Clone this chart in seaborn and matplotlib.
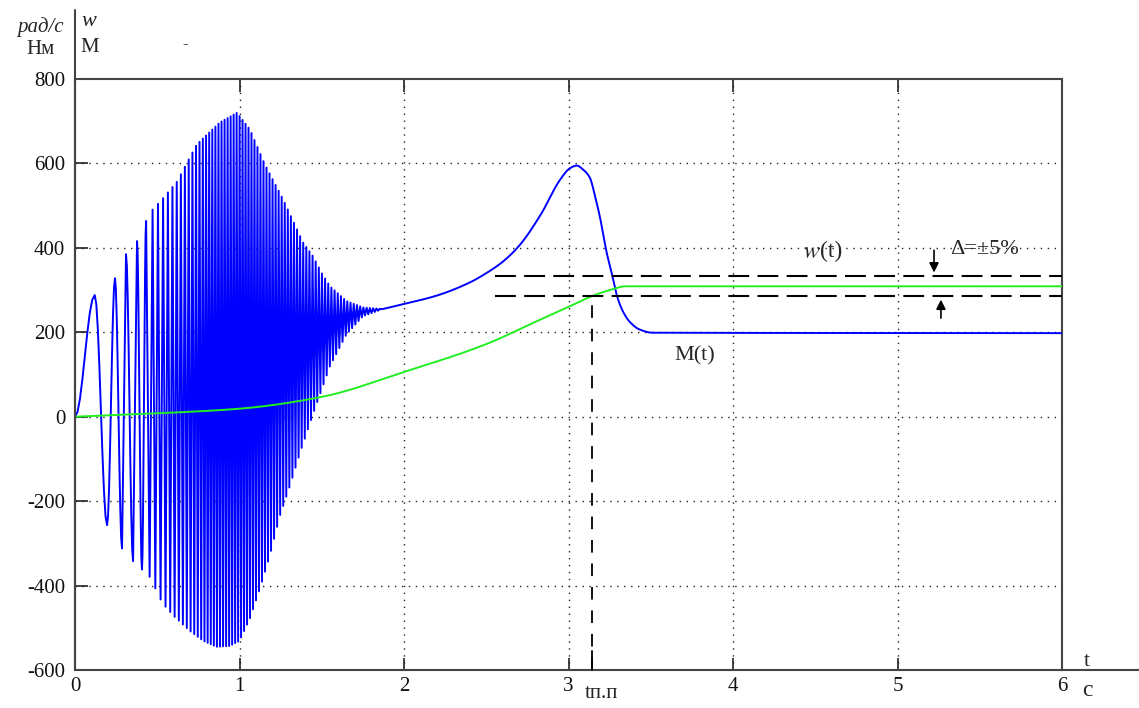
import numpy as np
import pandas as pd
import matplotlib
matplotlib.use("Agg")
import matplotlib.pyplot as plt
import seaborn as sns

# ---------------- data ----------------
# first distinct oscillation extremes of M(t)
early_t = [0.0, 0.12, 0.195, 0.243, 0.286, 0.31, 0.353, 0.377]
early_m = [0.0, 288, -257, 328, -312, 385, -342, 416]
# upper envelope of the dense oscillation
upper_t = [0.377, 0.456, 0.53, 0.62, 0.74, 0.88, 0.985, 1.064, 1.155, 1.265, 1.386, 1.447, 1.5, 1.55, 1.65, 1.75, 1.87]
upper_m = [416, 484, 515, 557, 645, 697, 720, 680, 597, 515, 413, 380, 340, 309, 274, 259, 255]
# lower envelope of the dense oscillation
lower_t = [0.353, 0.456, 0.53, 0.6, 0.7, 0.78, 0.86, 0.94, 1.0, 1.064, 1.125, 1.185, 1.246, 1.307, 1.37, 1.45, 1.55, 1.65, 1.75, 1.87]
lower_m = [-342, -380, -441, -472, -508, -531, -545, -543, -531, -477, -406, -328, -234, -163, -83, 10, 120, 195, 238, 255]
# visible oscillation period
period_t = [0.377, 0.46, 0.6, 0.8, 1.0, 1.9]
period_v = [0.06, 0.034, 0.026, 0.019, 0.018, 0.02]
# smooth part of M(t)
smooth_t = [1.87, 2.0, 2.2, 2.4, 2.5, 2.6, 2.7, 2.83, 2.95, 3.01, 3.05, 3.09, 3.13, 3.16, 3.19, 3.232, 3.267, 3.295, 3.33, 3.374, 3.43, 3.51, 6.0]
smooth_m = [255, 267, 287, 318, 340, 367, 405, 478, 562, 589, 595, 585, 566, 525, 475, 389, 333, 286, 250, 224, 207, 199, 198]
# speed w(t)
w_t = [0, 0.5, 1.0, 1.5, 2.0, 2.5, 2.8, 3.0, 3.145, 3.25, 3.35, 6.0]
w_v = [0, 8, 19, 47, 106, 172, 225, 260, 286, 300, 309, 309]

x_ticks = [0, 1, 2, 3, 4, 5, 6]
y_ticks = [-600, -400, -200, 0, 200, 400, 600, 800]
t_pp = 3.143
band_hi, band_lo = 333, 286


def pchip(xk, yk, xs):
    xk = np.asarray(xk, float)
    yk = np.asarray(yk, float)
    h = np.diff(xk)
    d = np.diff(yk) / h
    m = np.zeros_like(yk)
    for i in range(1, len(xk) - 1):
        if d[i - 1] * d[i] > 0:
            w1 = 2 * h[i] + h[i - 1]
            w2 = h[i] + 2 * h[i - 1]
            m[i] = (w1 + w2) / (w1 / d[i - 1] + w2 / d[i])
    m[0] = d[0]
    m[-1] = d[-1]
    idx = np.clip(np.searchsorted(xk, xs) - 1, 0, len(xk) - 2)
    x0 = xk[idx]
    hh = h[idx]
    s = (xs - x0) / hh
    h00 = 2 * s**3 - 3 * s**2 + 1
    h10 = s**3 - 2 * s**2 + s
    h01 = -2 * s**3 + 3 * s**2
    h11 = s**3 - s**2
    return h00 * yk[idx] + h10 * hh * m[idx] + h01 * yk[idx + 1] + h11 * hh * m[idx + 1]


# ---------------- build M(t) polyline ----------------
ext_t = list(early_t)
ext_m = list(early_m)
t = early_t[-1]
k = 0
while True:
    p = np.interp(t, period_t, period_v)
    t = t + p / 2
    if t >= upper_t[-1]:
        break
    if k % 2 == 0:
        ext_m.append(np.interp(t, lower_t, lower_m))
    else:
        ext_m.append(np.interp(t, upper_t, upper_m))
    ext_t.append(t)
    k += 1

mt, mv = [], []
for i in range(len(ext_t) - 1):
    a, b = ext_m[i], ext_m[i + 1]
    ta, tb = ext_t[i], ext_t[i + 1]
    n = 8 if tb - ta > 0.025 else 2
    s = np.linspace(0, 1, n, endpoint=False)
    mt.extend(ta + (tb - ta) * s)
    mv.extend(a + (b - a) * (1 - np.cos(np.pi * s)) / 2)
ss = np.linspace(smooth_t[0], smooth_t[-1], 1200)
mt.extend(ss)
mv.extend(pchip(smooth_t, smooth_m, ss))
dfM = pd.DataFrame({"t": mt, "M": mv})
ws = np.linspace(0, 6, 800)
dfW = pd.DataFrame({"t": ws, "w": pchip(w_t, w_v, ws)})

# ---------------- figure ----------------
sns.set_theme(style="white")
plt.rcParams["font.family"] = ["Liberation Serif", "DejaVu Serif"]
plt.rcParams["axes.unicode_minus"] = False

W, H = 1139, 708
fig = plt.figure(figsize=(W / 100, H / 100), dpi=100)
L, R, T, B = 75, 1062, 79, 670
ax = fig.add_axes([L / W, 1 - B / H, (R - L) / W, (B - T) / H])
ax.set_xlim(0, 6)
ax.set_ylim(-600, 800)

# grid
for xv in x_ticks[1:-1]:
    ax.axvline(xv, color="#222222", lw=1.0, ls=(0, (1, 4)), zorder=1)
for yv in y_ticks[1:-1]:
    ax.axhline(yv, color="#222222", lw=1.0, ls=(0, (1, 4)), zorder=1)

sns.lineplot(data=dfM, x="t", y="M", ax=ax, sort=False, estimator=None,
             color="#0000ff", lw=1.4, zorder=3)
sns.lineplot(data=dfW, x="t", y="w", ax=ax, sort=False, estimator=None,
             color="#22ee22", lw=1.4, zorder=4)

# tolerance band and settling time
ax.plot([2.553, 6], [band_hi, band_hi], color="black", lw=1.5, ls=(0, (10, 4)), zorder=5)
ax.plot([2.553, 6], [band_lo, band_lo], color="black", lw=1.5, ls=(0, (10, 4)), zorder=5)
ax.plot([t_pp, t_pp], [-600, band_lo], color="black", lw=1.3, ls=(0, (7, 6)), zorder=5)

ax.annotate("", xy=(5.222, band_hi + 2), xytext=(5.222, 401),
            arrowprops=dict(arrowstyle="-|>", color="black", lw=1.2, mutation_scale=14))
ax.annotate("", xy=(5.264, band_lo - 2), xytext=(5.264, 227),
            arrowprops=dict(arrowstyle="-|>", color="black", lw=1.2, mutation_scale=14))

ax.text(4.53, 390, r"$w$", fontsize=17, ha="right", va="center", math_fontfamily="stix")
ax.text(4.53, 392, "(t)", fontsize=17, ha="left", va="center")
ax.text(5.32, 397, "Δ=±5%", fontsize=16, ha="left", va="center")
ax.text(3.77, 144, "M(t)", fontsize=16, ha="center", va="center")

# axes styling
for sp in ["left", "bottom", "top", "right"]:
    ax.spines[sp].set_color("#444444")
    ax.spines[sp].set_linewidth(1.5)
ax.set_xticks(x_ticks)
ax.set_yticks(y_ticks)
ax.tick_params(axis="both", direction="in", length=9, width=1.3, color="#333333",
               labelsize=15, labelcolor="#111111")
ax.tick_params(axis="x", top=True, bottom=True, pad=5)
ax.tick_params(axis="y", left=True, right=False, pad=7)
ax.set_xlabel("")
ax.set_ylabel("")
ax.plot([t_pp, t_pp], [-600, -555], color="black", lw=1.3, clip_on=False, zorder=6)

# extended axis lines
ax.plot([0, 0], [-600, 800 + 69 / 84.7 * 200], color="#444444", lw=1.5, clip_on=False, zorder=6)
ax.plot([6, 6 + 77 / 164.5], [-600, -600], color="#444444", lw=1.5, clip_on=False, zorder=6)


def ftext(x, y, s, **kw):
    fig.text(x / W, 1 - y / H, s, **kw)


ftext(64, 27, "рад/с", fontsize=15, style="italic", ha="right", va="center")
ftext(55, 50, "Нм", fontsize=15, ha="right", va="center")
ftext(81, 22, "w", fontsize=16, style="italic", ha="left", va="center")
ftext(80, 48, "M", fontsize=15, ha="left", va="center")
ftext(185, 44, "-", fontsize=12, ha="center", va="center")
ftext(1087, 661, "t", fontsize=16, ha="center", va="center")
ftext(1087, 690, "с", fontsize=17, ha="center", va="center")
ftext(601, 694, "tп.п", fontsize=15, ha="center", va="center")

fig.savefig("out.png", dpi=100)
